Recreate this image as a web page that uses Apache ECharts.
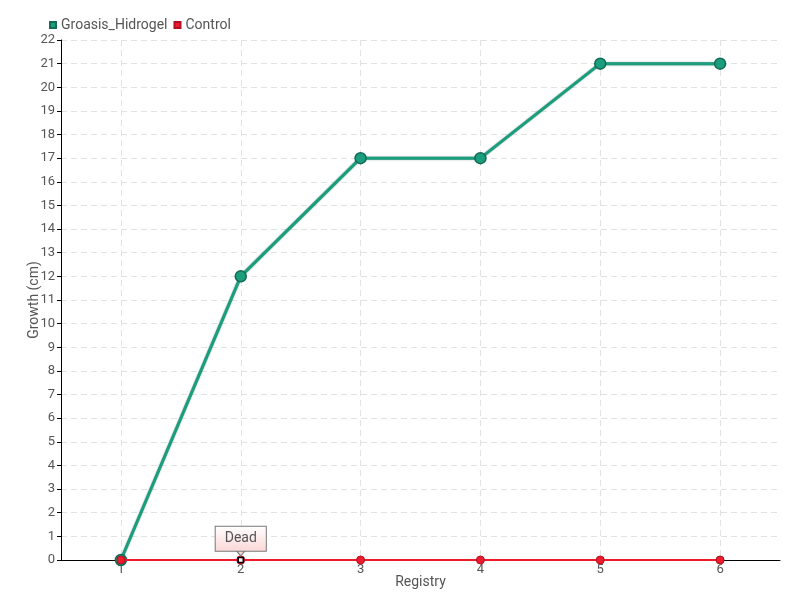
<!DOCTYPE html>
<html><head><meta charset="utf-8">
<script src="https://cdn.jsdelivr.net/npm/echarts@6/dist/echarts.min.js"></script>
<style>html,body{margin:0;padding:0;background:#fff;overflow:hidden}#c{width:800px;height:600px}</style>
</head><body><div id="c"></div>
<script>
const categories = ['1','2','3','4','5','6'];
const groasis = [0, 12, 17, 17, 21, 21];
const control = [0, 0, 0, 0, 0, 0];
const seriesNames = ['Groasis_Hidrogel', 'Control'];
const annotationText = 'Dead';
const FONT = 'Roboto, "Liberation Sans", sans-serif';
const chart = echarts.init(document.getElementById('c'));
chart.setOption({
  animation: false,
  textStyle: {fontFamily: FONT},
  legend: {
    left: 44, top: 13, itemWidth: 6, itemHeight: 6, itemGap: 6,
    icon: 'rect',
    textStyle: {color: '#555', fontSize: 14, fontFamily: FONT},
    data: seriesNames
  },
  grid: {left: 61, right: 20, top: 40, bottom: 40},
  xAxis: {
    type: 'category', data: categories, boundaryGap: true, z: 0,
    name: 'Registry', nameLocation: 'middle', nameGap: 15, nameMoveOverlap: false,
    nameTextStyle: {color: '#555', fontSize: 14, fontFamily: FONT},
    axisLine: {lineStyle: {color: '#000'}},
    axisTick: {alignWithLabel: true, length: 6, lineStyle: {color: '#555'}},
    axisLabel: {color: '#555', fontSize: 13, margin: 3, fontFamily: FONT},
    splitLine: {show: true, alignWithLabel: true, lineStyle: {color: '#e2e2e2', type: [6, 4]}}
  },
  yAxis: {
    type: 'value', min: 0, max: 22, interval: 1,
    name: 'Growth (cm)', nameLocation: 'middle', nameGap: 20, nameMoveOverlap: false,
    nameTextStyle: {color: '#555', fontSize: 14, fontFamily: FONT},
    axisLine: {show: true, lineStyle: {color: '#000'}},
    axisTick: {show: true, length: 4, lineStyle: {color: '#000'}},
    axisLabel: {color: '#555', fontSize: 13, margin: 6, fontFamily: FONT},
    splitLine: {show: true, lineStyle: {color: '#e2e2e2', type: [6, 4]}}
  },
  series: [
    {
      name: seriesNames[0], type: 'line', data: groasis,
      color: '#1b9e7e',
      lineStyle: {width: 3, color: '#1b9e7e', shadowColor: 'rgba(10,70,50,0.6)', shadowBlur: 1.5},
      symbol: 'circle', symbolSize: 11,
      itemStyle: {color: '#1b9e7e', borderColor: '#136a55', borderWidth: 1.5},
      z: 3
    },
    {
      name: seriesNames[1], type: 'line', data: control,
      color: '#ee1c2c',
      lineStyle: {width: 2, color: '#f01a2a'},
      symbol: 'circle', symbolSize: 8,
      itemStyle: {color: '#ee1c2c', borderColor: '#b01020', borderWidth: 1},
      z: 4,
      markPoint: {
        data: [
          {
            coord: [categories[1], control[1]],
            symbol: 'rect', symbolSize: 5,
            itemStyle: {color: '#fff', borderColor: '#000', borderWidth: 1.5},
            label: {
              show: true, position: 'top', distance: 6,
              formatter: annotationText, color: '#555', fontSize: 14, fontFamily: FONT,
              padding: [5, 9, 5, 9],
              borderColor: '#777', borderWidth: 1,
              backgroundColor: {type: 'linear', x: 0, y: 0, x2: 0, y2: 1,
                colorStops: [{offset: 0, color: '#ffffff'}, {offset: 1, color: '#fbd6d6'}]}
            }
          },
          {
            coord: [categories[1], control[1]],
            symbol: 'triangle', symbolRotate: 180, symbolSize: [10, 6],
            symbolOffset: [0, -7],
            itemStyle: {color: '#fbdada', borderColor: '#777', borderWidth: 1},
            label: {show: false}
          }
        ]
      }
    }
  ]
});
</script></body></html>
